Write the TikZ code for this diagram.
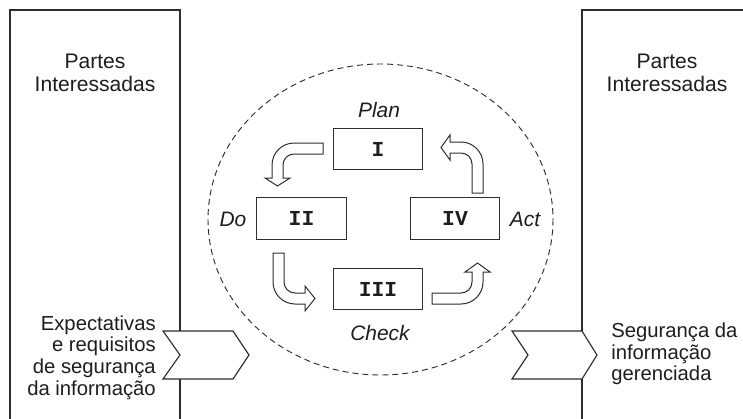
\documentclass[tikz,border=0pt]{standalone}
\usepackage{fontspec}
\setmainfont{Liberation Sans}
\newfontfamily\monof{Liberation Mono}
\definecolor{ink}{HTML}{2E2E2E}
\definecolor{txt}{HTML}{1E1E1E}
\tikzset{
  frame/.style={draw=ink, line width=0.85pt},
  stage/.style={draw=ink, line width=0.85pt, minimum width=67pt, minimum height=31pt, inner sep=0pt,
    font=\monof\bfseries\fontsize{16}{16}\selectfont, text=txt},
  phase/.style={font=\itshape\fontsize{15.7}{16}\selectfont, text=txt, inner sep=0pt},
  party/.style={font=\fontsize{15.8}{17.3}\selectfont, text=txt, align=center, inner sep=0pt},
  flowtxt/.style={font=\fontsize{15.2}{16.2}\selectfont, text=txt, inner sep=0pt},
  chev/.style={draw=ink, fill=white, line width=0.85pt, line join=miter},
  bent/.style={draw=ink, fill=white, line width=0.75pt, line join=miter},
  orbit/.style={draw=ink, line width=0.7pt, dash pattern=on 4.5pt off 3pt}
}
\begin{document}
\begin{tikzpicture}[x=0.75pt, y=-0.75pt]
\clip (0,0) rectangle (743,418);
\fill[white] (0,0) rectangle (743,418);

% side boxes (open at bottom / right)
\draw[frame] (10,430) -- (10,10) -- (180,10) -- (180,430);
\draw[frame] (760,10) -- (582,10) -- (582,430);

% dashed orbit
\draw[orbit] (380.5,219.5) ellipse [x radius=172.5, y radius=155.5];

% chevrons
\draw[chev] (163,331) -- (233,331) -- (249,355) -- (233,379) -- (163,379) -- (180,355) -- cycle;
\draw[chev] (512,331) -- (582,331) -- (597,355) -- (582,379) -- (512,379) -- (528,355) -- cycle;

% texts
\node[party] (lparty) at (95,73) {Partes\\Interessadas};
\node[party] (rparty) at (667,73) {Partes\\Interessadas};
\node[flowtxt, align=right, anchor=east] (inp) at (156,357.5) {Expectativas\\e requisitos\\de segurança\\da informação};
\node[flowtxt, align=left, anchor=west] (outp) at (611,354) {Segurança da\\informação\\gerenciada};

% stages
\node[stage] (I) at (378,149) {I};
\node[stage] (II) at (301.5,218.5) {II};
\node[stage] (IV) at (455,218.5) {IV};
\node[stage] (III) at (378,289) {III};

\node[phase] (plan) at (379,110) {Plan};
\node[phase] (do) at (233,219.5) {Do};
\node[phase] (act) at (525,219.5) {Act};
\node[phase] (check) at (380,333) {Check};

% bent hollow arrows
\draw[bent] (323,143) -- (294,143) .. controls (281.9,143) and (272,152.9) .. (272,165) -- (272,178) -- (265,178) -- (277.5,186) -- (290,178) -- (283,178) -- (283,165) .. controls (283,158.9) and (287.9,154) .. (294,154) -- (323,154) -- cycle;
\draw[bent] (273,253) -- (273,282) .. controls (273,294.1) and (282.9,304) .. (295,304) -- (305,304) -- (305,311) -- (315,298.5) -- (305,286) -- (305,293) -- (295,293) .. controls (288.9,293) and (284,288.1) .. (284,282) -- (284,253) -- cycle;
\draw[bent] (432,304) -- (461,304) .. controls (473.1,304) and (483,294.1) .. (483,282) -- (483,272) -- (490,272) -- (477.5,263) -- (465,272) -- (472,272) -- (472,282) .. controls (472,288.1) and (467.1,293) .. (461,293) -- (432,293) -- cycle;
\draw[bent] (483,193) -- (483,164) .. controls (483,151.9) and (473.1,142) .. (461,142) -- (450,142) -- (450,135) -- (441,147.5) -- (450,160) -- (450,153) -- (461,153) .. controls (467.1,153) and (472,157.9) .. (472,164) -- (472,193) -- cycle;
\end{tikzpicture}
\end{document}
